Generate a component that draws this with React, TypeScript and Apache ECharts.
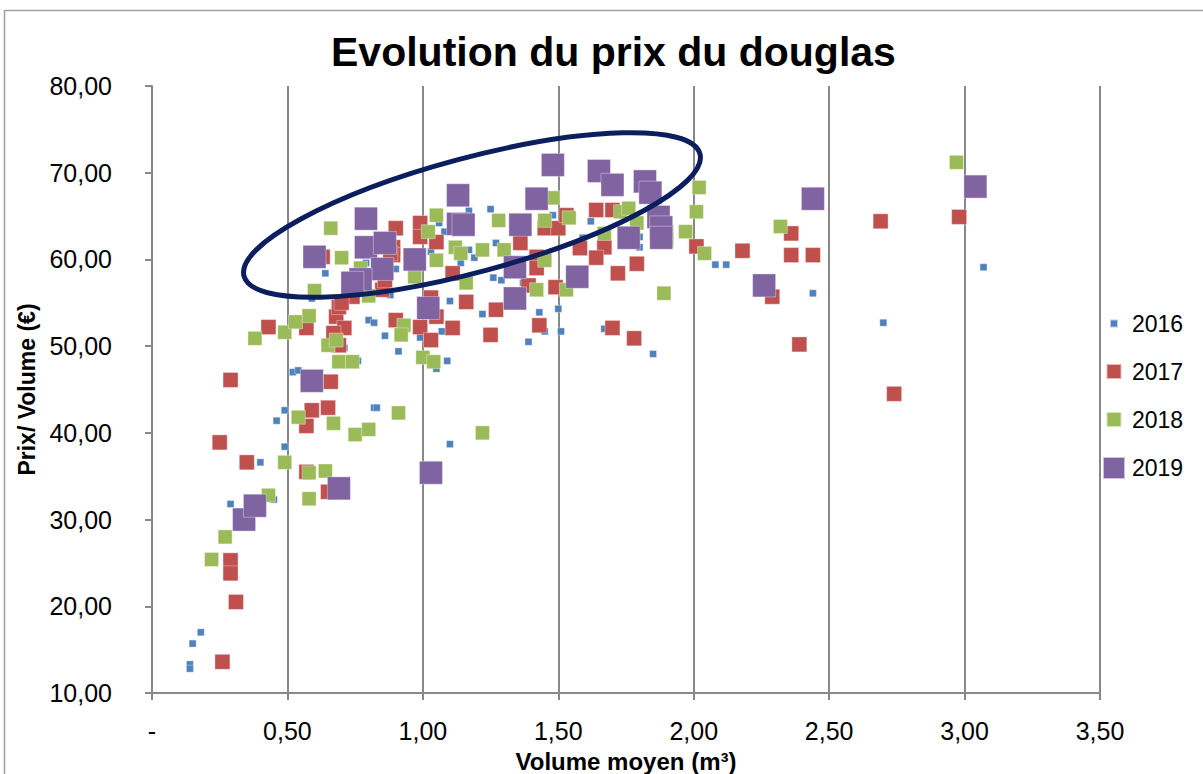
import React, { useEffect, useRef } from "react";
import * as echarts from "echarts";

const series2016: [number, number][] = [
  [0.14, 13.3], [0.14, 12.8], [0.15, 15.7], [0.18, 17.0], [0.29, 31.8], [0.40, 36.6], [0.45, 32.3],
  [0.49, 38.4], [0.46, 41.4], [0.49, 42.6], [0.82, 42.9], [0.83, 42.9], [0.52, 47.0], [0.54, 47.2],
  [0.71, 49.8], [0.76, 48.3], [0.86, 51.2], [0.91, 49.4], [0.99, 51.0], [0.64, 58.4], [0.90, 58.9],
  [0.79, 59.6], [0.88, 55.9], [0.59, 55.5], [1.03, 60.9], [0.80, 53.0], [0.82, 52.7], [1.17, 65.6],
  [1.25, 65.8], [1.06, 64.2], [1.08, 63.2], [1.17, 61.1], [1.19, 60.2], [1.14, 59.6], [1.27, 61.9],
  [1.48, 65.1], [1.62, 64.4], [1.59, 62.5], [1.29, 57.6], [1.26, 57.9], [1.37, 57.3], [1.10, 55.2],
  [1.22, 53.7], [1.43, 53.9], [1.50, 54.3], [1.51, 51.7], [1.45, 51.7], [1.39, 50.5], [1.09, 48.3],
  [1.05, 47.4], [1.07, 51.7], [1.10, 38.7], [1.85, 49.1], [1.67, 52.0], [2.08, 59.4], [2.12, 59.4],
  [2.44, 56.1], [2.70, 52.7], [3.07, 59.1], [1.80, 62.6], [1.80, 61.4],
];

const series2017: [number, number][] = [
  [0.29, 46.1], [0.25, 38.9], [0.35, 36.6], [0.29, 25.3], [0.29, 23.8], [0.31, 20.5], [0.26, 13.6],
  [0.57, 40.8], [0.59, 42.6], [0.65, 42.9], [0.57, 35.5], [0.65, 33.2], [0.66, 45.9], [0.43, 52.2],
  [0.57, 52.1], [0.68, 53.4], [0.71, 52.1], [0.67, 51.5], [0.69, 54.5], [0.69, 50.1], [0.90, 53.0],
  [0.99, 52.2], [1.03, 50.7], [0.90, 63.6], [0.99, 64.2], [0.99, 62.6], [0.89, 61.4], [0.89, 60.5],
  [0.63, 60.3], [1.03, 55.6], [0.85, 56.5], [0.86, 57.6], [0.74, 55.7], [0.70, 55.0], [1.05, 62.0],
  [0.88, 60.7], [1.11, 58.4], [1.16, 55.1], [1.05, 53.4], [1.11, 52.1], [1.27, 54.2], [1.25, 51.3],
  [1.36, 61.9], [1.45, 63.6], [1.42, 60.3], [1.39, 57.0], [1.42, 59.0], [1.43, 52.4], [1.49, 56.8],
  [1.50, 63.6], [1.53, 65.1], [1.58, 61.3], [1.64, 65.7], [1.67, 61.4], [1.70, 65.7], [1.64, 60.2],
  [1.72, 58.4], [1.79, 59.5], [1.70, 52.1], [1.78, 50.9], [2.01, 61.5], [2.18, 61.0], [2.36, 63.0],
  [2.36, 60.5], [2.44, 60.5], [2.29, 55.7], [2.39, 50.2], [2.69, 64.4], [2.74, 44.5], [2.98, 64.9],
];

const series2018: [number, number][] = [
  [0.22, 25.4], [0.27, 28.0], [0.43, 32.8], [0.49, 36.6], [0.54, 41.8], [0.67, 41.1], [0.58, 35.4],
  [0.64, 35.6], [0.58, 32.4], [0.75, 39.8], [0.80, 40.4], [0.91, 42.3], [0.38, 50.9], [0.49, 51.6],
  [0.53, 52.8], [0.58, 53.5], [0.60, 56.4], [0.66, 63.6], [0.70, 60.2], [0.65, 50.1], [0.68, 50.7],
  [0.69, 48.2], [0.74, 48.2], [0.77, 59.0], [0.93, 52.4], [0.92, 51.3], [0.97, 58.0], [1.00, 48.7],
  [1.04, 48.2], [1.02, 63.2], [1.05, 65.1], [1.05, 59.9], [0.80, 55.8], [1.12, 61.4], [1.14, 60.7],
  [1.22, 61.1], [1.30, 61.1], [1.28, 64.5], [1.45, 64.5], [1.48, 67.1], [1.45, 59.9], [1.54, 64.8],
  [1.67, 63.0], [1.73, 65.5], [1.76, 65.9], [1.79, 64.2], [1.42, 56.5], [1.53, 56.5], [1.16, 57.3],
  [1.89, 56.1], [1.97, 63.2], [2.01, 65.5], [2.02, 68.3], [2.04, 60.7], [1.90, 63.2], [1.90, 62.2],
  [1.22, 40.0], [2.32, 63.8], [2.97, 71.2],
];

const series2019: [number, number][] = [
  [0.34, 30.0], [0.38, 31.6], [0.69, 33.6], [1.03, 35.4], [0.59, 46.0], [0.60, 60.3], [0.79, 64.7],
  [0.79, 61.4], [0.86, 61.9], [0.85, 58.9], [0.77, 57.7], [0.74, 57.3], [0.97, 60.0], [1.02, 54.4],
  [1.13, 67.4], [1.13, 64.1], [1.15, 64.0], [1.42, 67.0], [1.36, 64.0], [1.34, 59.1], [1.34, 55.5],
  [1.48, 70.9], [1.57, 58.0], [1.65, 70.2], [1.70, 68.6], [1.82, 69.0], [1.84, 67.7], [1.87, 64.9],
  [1.88, 63.7], [1.88, 62.5], [1.76, 62.5], [2.44, 67.0], [2.26, 57.0], [3.04, 68.4],
];

const seriesNames = ["2016", "2017", "2018", "2019"];
const seriesColors = ["#4f81bd", "#c0504d", "#9bbb59", "#8064a2"];
const seriesSizes = [7, 15, 14, 23];
const legendIconSizes = [8, 15, 15, 22];

const fmt = (v: number) => v.toFixed(2).replace(".", ",");

export default function App() {
  const ref = useRef<HTMLDivElement>(null);
  useEffect(() => {
    if (!ref.current) return;
    const chart = echarts.init(ref.current, undefined, { renderer: "svg" });
    const allData = [series2016, series2017, series2018, series2019];
    const font = "'Liberation Sans', Arial, sans-serif";
    chart.setOption({
      animation: false,
      backgroundColor: "#ffffff",
      title: {
        text: "Evolution du prix du douglas",
        left: 326,
        top: 26,
        textStyle: { fontFamily: font, fontSize: 41, fontWeight: "bold", color: "#000" },
      },
      legend: seriesNames.map((n, i) => ({
        data: [n],
        left: 1108 - legendIconSizes[i] / 2,
        top: 307 + i * 48,
        itemWidth: legendIconSizes[i],
        itemHeight: legendIconSizes[i],
        itemGap: 0,
        icon: "rect",
        selectedMode: false,
        itemStyle: { opacity: 1 },
        textStyle: { fontFamily: font, fontSize: 23, color: "#000", padding: [0, 0, 0, 13 - legendIconSizes[i] / 2] },
      })),
      grid: { left: 152, top: 86, width: 948, height: 607, containLabel: false, outerBoundsMode: "none" },
      xAxis: {
        type: "value",
        min: 0,
        max: 3.5,
        interval: 0.5,
        name: "Volume moyen (m³)",
        nameLocation: "middle",
        nameGap: 56,
        nameTextStyle: { fontFamily: font, fontSize: 24, fontWeight: "bold", color: "#000" },
        axisLine: { show: true, lineStyle: { color: "#888", width: 2 } },
        axisTick: { show: true, length: 7, lineStyle: { color: "#888", width: 2 } },
        axisLabel: { fontFamily: font, fontSize: 25, color: "#000", margin: 25, formatter: (v: number) => (v === 0 ? "-" : fmt(v)) },
        splitLine: { show: true, lineStyle: { color: "#888", width: 2 } },
      },
      yAxis: {
        type: "value",
        min: 10,
        max: 80,
        interval: 10,
        name: "Prix/ Volume (€)",
        nameLocation: "middle",
        nameGap: 99,
        nameRotate: 90,
        nameTextStyle: { fontFamily: font, fontSize: 23, fontWeight: "bold", color: "#000" },
        axisLine: { show: true, lineStyle: { color: "#888", width: 2 } },
        axisTick: { show: true, length: 7, lineStyle: { color: "#888", width: 2 } },
        axisLabel: { fontFamily: font, fontSize: 25, color: "#000", margin: 40, formatter: (v: number) => fmt(v) },
        splitLine: { show: false },
      },
      series: seriesNames.map((n, i) => ({
        name: n,
        type: "scatter",
        data: allData[i],
        symbol: "rect",
        symbolSize: seriesSizes[i],
        itemStyle: { color: seriesColors[i], opacity: 1, borderColor: "rgba(255,255,255,0.6)", borderWidth: 0.6 },
        emphasis: { disabled: true },
        z: 2 + i,
      })),
      graphic: [
        {
          type: "rect",
          shape: { x: 4.5, y: 10.5, width: 1300, height: 900 },
          style: { fill: "none", stroke: "#a0a0a0", lineWidth: 1.5 },
          silent: true,
          z: 0,
        },
        {
          type: "ellipse",
          x: 472,
          y: 215,
          rotation: (15 * Math.PI) / 180,
          shape: { cx: 0, cy: 0, rx: 236, ry: 57 },
          style: { fill: "none", stroke: "#0b1f5e", lineWidth: 5 },
          silent: true,
          z: 100,
        },
      ],
    });
    return () => chart.dispose();
  }, []);
  return <div ref={ref} style={{ position: "fixed", left: 0, top: 0, width: 1203, height: 774 }} />;
}
